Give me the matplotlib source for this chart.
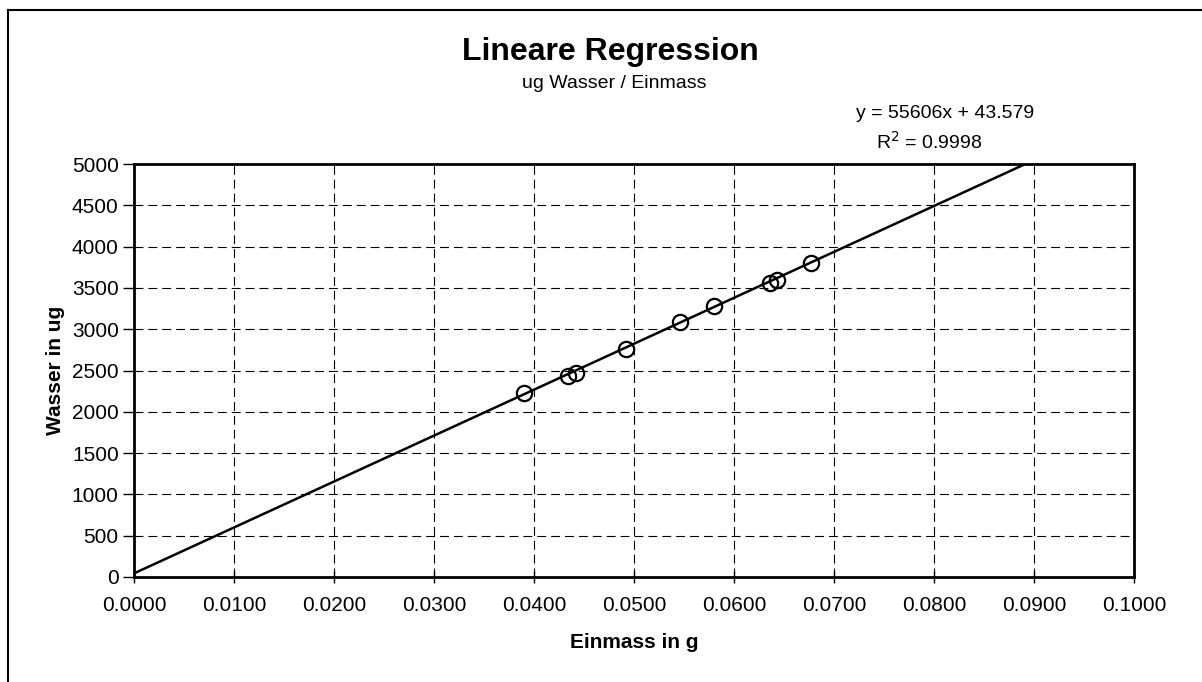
import matplotlib
matplotlib.use("Agg")
import matplotlib.pyplot as plt
import numpy as np
from matplotlib.lines import Line2D

plt.rcParams["font.family"] = ["Liberation Sans", "DejaVu Sans"]

# measured points (Einmass in g, Wasser in ug)
einmass_g = [0.0390, 0.0434, 0.0442, 0.0492, 0.0546, 0.0580, 0.0636, 0.0643, 0.0677]
wasser_ug = [2228, 2434, 2470, 2760, 3087, 3281, 3559, 3596, 3802]

# trendline as printed on the chart
SLOPE = 55606
INTERCEPT = 43.579
R2 = 0.9998

x_ticks = [0.0, 0.01, 0.02, 0.03, 0.04, 0.05, 0.06, 0.07, 0.08, 0.09, 0.1]
y_ticks = [0, 500, 1000, 1500, 2000, 2500, 3000, 3500, 4000, 4500, 5000]

fig = plt.figure(figsize=(12.02, 6.82), dpi=100)
ax = fig.add_axes([134 / 1202, 105 / 682, 1000 / 1202, 413 / 682])

xs = np.linspace(0, 0.1, 200)
ax.plot(xs, SLOPE * xs + INTERCEPT, color="black", lw=1.8, zorder=3)
ax.plot(einmass_g, wasser_ug, linestyle="none", marker="o", ms=11,
        mfc="none", mec="black", mew=1.6, zorder=4)

ax.set_xlim(0, 0.1)
ax.set_ylim(0, 5000)
ax.set_xticks(x_ticks)
ax.set_yticks(y_ticks)
ax.set_xticklabels([f"{v:.4f}" for v in x_ticks])
ax.tick_params(axis="both", labelsize=15, width=1, color="black")
ax.tick_params(axis="x", direction="inout", length=8, pad=10)
ax.tick_params(axis="y", direction="out", length=8, pad=3)
ax.grid(True, color="black", linestyle=(0, (8, 4.5)), linewidth=0.8)
ax.set_axisbelow(True)
for side in ax.spines.values():
    side.set_linewidth(2)
    side.set_color("black")

ax.set_xlabel("Einmass in g", fontsize=15, fontweight="bold", labelpad=13)
ax.set_ylabel("Wasser in ug", fontsize=15, fontweight="bold", labelpad=5)

fig.text(610 / 1202, 1 - 52 / 682, "Lineare Regression", ha="center", va="center",
         fontsize=23, fontweight="bold")
fig.text(614 / 1202, 1 - 84 / 682, "ug Wasser / Einmass", ha="center", va="center", fontsize=14)
fig.text(945 / 1202, 1 - 113 / 682, f"y = {SLOPE}x + {INTERCEPT}", ha="center", va="center",
         fontsize=14)
fig.text(929 / 1202, 1 - 142 / 682, f"R$^2$ = {R2}", ha="center", va="center", fontsize=14)

# outer chart frame (left and top edges visible)
fig.add_artist(Line2D([8 / 1202, 8 / 1202], [0, 1 - 10 / 682], transform=fig.transFigure,
                      color="black", lw=1.5))
fig.add_artist(Line2D([8 / 1202, 1], [1 - 10 / 682, 1 - 10 / 682], transform=fig.transFigure,
                      color="black", lw=1.5))

fig.savefig("out.png", dpi=100)
